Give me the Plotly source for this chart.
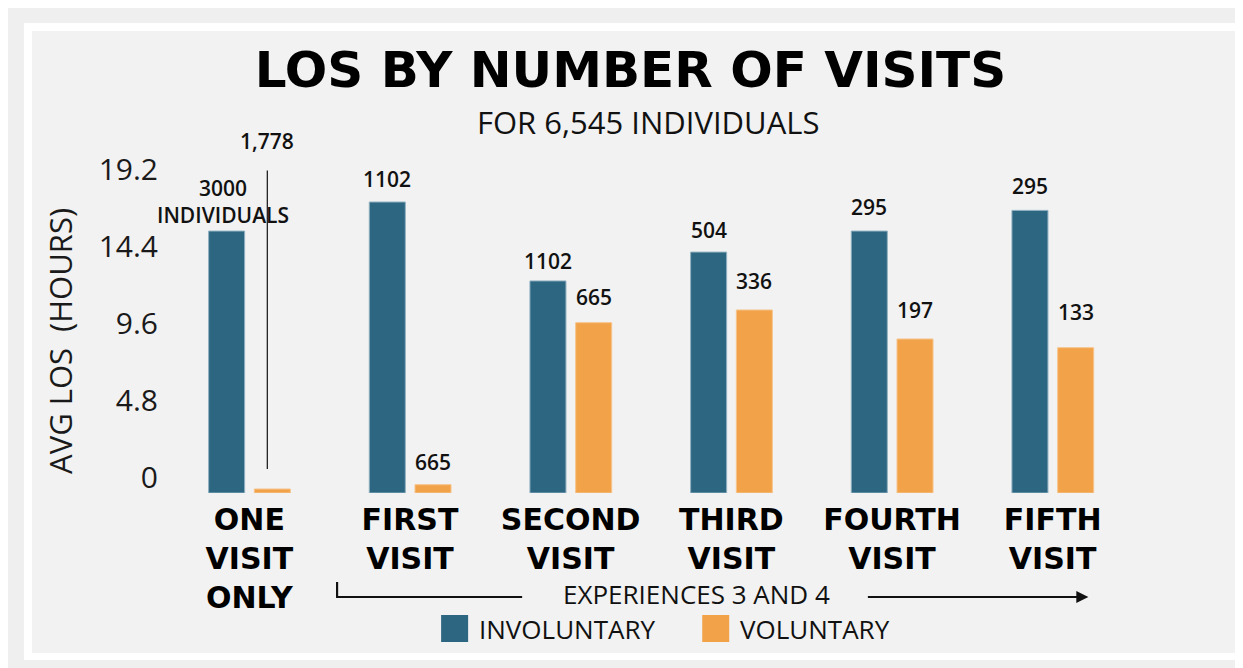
import plotly.graph_objects as go

# ---------------- data ----------------
categories = ["ONE<br>VISIT<br>ONLY", "FIRST<br>VISIT", "SECOND<br>VISIT",
              "THIRD<br>VISIT", "FOURTH<br>VISIT", "FIFTH<br>VISIT"]
involuntary_los = [16.33, 18.14, 13.22, 15.02, 16.33, 17.62]
voluntary_los = [0.25, 0.52, 10.62, 11.41, 9.60, 9.06]
involuntary_n = ["3000<br>INDIVIDUALS", "1102", "1102", "504", "295", "295"]
voluntary_n = ["1,778", "665", "665", "336", "197", "133"]
y_ticks = [0, 4.8, 9.6, 14.4, 19.2]
y_tick_text = ["0", "4.8", "9.6", "14.4", "19.2"]

# ---------------- styles ----------------
INV_COLOR = "#2c6681"
VOL_COLOR = "#f2a34a"
W, H = 1243, 668
OFF = 8  # page body margin
ML, MT = 169 - OFF, 140 - OFF
PLOT_BOTTOM = 493 - OFF
PLOT_RIGHT = 1132.6 - OFF
MR = W - PLOT_RIGHT
MB = H - PLOT_BOTTOM
PW, PH = W - ML - MR, H - MT - MB
Y_MAX = PH / 16.04
SLOT = PW / len(categories)
BAR_W = 36 / SLOT
INV_OFF = -40.7 / SLOT
VOL_OFF = 5.0 / SLOT
LIFT_INV = [30, 23, 20, 22, 24, 24]
LIFT_VOL = [0, 23, 26, 29, 29, 36]


def px(x):
    return (x - OFF - ML) / PW


def py(y):
    return (H - MB - (y - OFF)) / PH


fig = go.Figure()
fig.add_trace(go.Bar(x=categories, y=involuntary_los, name="INVOLUNTARY",
                     marker=dict(color=INV_COLOR, line=dict(color="#8fb0c0", width=1)),
                     offset=INV_OFF, width=BAR_W, showlegend=False))
fig.add_trace(go.Bar(x=categories, y=voluntary_los, name="VOLUNTARY",
                     marker=dict(color=VOL_COLOR, line=dict(color="#f6c48c", width=1)),
                     offset=VOL_OFF, width=BAR_W, showlegend=False))

label_font = dict(family="Open Sans", size=21, color="#111111", weight=600)
ann = []
for i, c in enumerate(categories):
    ann.append(dict(x=c, y=involuntary_los[i], xref="x", yref="y",
                    text=involuntary_n[i], showarrow=False, font=label_font,
                    xshift=(INV_OFF + BAR_W / 2) * SLOT - (4 if i == 0 else 0),
                    yshift=LIFT_INV[i], yanchor="middle"))
    if i == 0:
        ann.append(dict(x=c, y=voluntary_los[i], xref="x", yref="y",
                        text=voluntary_n[i], showarrow=True, arrowhead=0,
                        arrowwidth=1.3, arrowcolor="#222222", ax=0, ay=-348,
                        axref="pixel", ayref="pixel", standoff=20, borderpad=15,
                        xshift=18, font=label_font))
    else:
        ann.append(dict(x=c, y=voluntary_los[i], xref="x", yref="y",
                        text=voluntary_n[i], showarrow=False, font=label_font,
                        xshift=(VOL_OFF + BAR_W / 2) * SLOT,
                        yshift=LIFT_VOL[i], yanchor="middle"))

# y-axis title
ann.append(dict(x=px(60), y=py(341), xref="paper", yref="paper",
                text="AVG LOS&nbsp;&nbsp;(HOURS)", showarrow=False, textangle=-90,
                font=dict(family="Open Sans", size=31, color="#1a1a1a"),
                xanchor="center", yanchor="middle"))
# subtitle
ann.append(dict(x=px(648), y=py(122), xref="paper", yref="paper",
                text="FOR 6,545 INDIVIDUALS", showarrow=False,
                font=dict(family="Open Sans", size=31, color="#111111"),
                xanchor="center", yanchor="middle"))
# bracket text
ann.append(dict(x=px(696), y=py(594), xref="paper", yref="paper",
                text="EXPERIENCES 3 AND 4", showarrow=False,
                font=dict(family="Open Sans", size=26, color="#111111"),
                xanchor="center", yanchor="middle"))
# arrow
ann.append(dict(x=px(1088), y=py(597), xref="paper", yref="paper", text="",
                showarrow=True, ax=-222, ay=0, axref="pixel", ayref="pixel",
                arrowhead=2, arrowsize=1.1, arrowwidth=2.2, arrowcolor="#111111"))
# legend text
ann.append(dict(x=px(477), y=py(629), xref="paper", yref="paper",
                text="INVOLUNTARY", showarrow=False, xanchor="left", yanchor="middle",
                font=dict(family="Open Sans", size=26, color="#111111")))
ann.append(dict(x=px(738), y=py(629), xref="paper", yref="paper",
                text="VOLUNTARY", showarrow=False, xanchor="left", yanchor="middle",
                font=dict(family="Open Sans", size=26, color="#111111")))

shapes = [
    dict(type="rect", xref="paper", yref="paper", x0=px(24), x1=px(1260), y0=py(23), y1=py(660),
         fillcolor="#ffffff", line=dict(width=0), layer="below"),
    dict(type="rect", xref="paper", yref="paper", x0=px(32), x1=px(1236), y0=py(31), y1=py(653),
         fillcolor="#f2f2f2", line=dict(width=0), layer="below"),
    # bracket
    dict(type="line", xref="paper", yref="paper", x0=px(337), x1=px(337), y0=py(582), y1=py(597.5),
         line=dict(color="#111111", width=2.2)),
    dict(type="line", xref="paper", yref="paper", x0=px(336), x1=px(522), y0=py(597), y1=py(597),
         line=dict(color="#111111", width=2.2)),
    # legend swatches
    dict(type="rect", xref="paper", yref="paper", x0=px(441), x1=px(468), y0=py(615), y1=py(642),
         fillcolor=INV_COLOR, line=dict(width=0)),
    dict(type="rect", xref="paper", yref="paper", x0=px(702), x1=px(729), y0=py(615), y1=py(642),
         fillcolor=VOL_COLOR, line=dict(width=0)),
]

fig.update_layout(
    width=W, height=H,
    margin=dict(l=ML, r=MR, t=MT, b=MB, pad=0),
    paper_bgcolor="#efefef", plot_bgcolor="rgba(0,0,0,0)",
    barmode="overlay",
    title=dict(text="LOS BY NUMBER OF VISITS", x=(630.5 - OFF) / W, xanchor="center",
               y=1 - (69.5 - OFF) / H, yanchor="middle", xref="container", yref="container",
               font=dict(family="DejaVu Sans", size=50, color="#000000", weight="bold")),
    xaxis=dict(type="category", categoryorder="array", categoryarray=categories,
               range=[-0.5, len(categories) - 0.5], showgrid=False, showline=False,
               zeroline=False, ticks="", ticklabelstandoff=6,
               tickfont=dict(family="DejaVu Sans", size=30, color="#000000", weight="bold")),
    yaxis=dict(range=[0, Y_MAX], tickvals=y_ticks, ticktext=y_tick_text,
               showgrid=False, zeroline=False, showline=False, ticks="",
               ticklabelstandoff=10, ticklabelshift=-16,
               tickfont=dict(family="Open Sans", size=30, color="#1a1a1a")),
    annotations=ann, shapes=shapes,
    showlegend=False,
)

fig.write_html("out.html")
